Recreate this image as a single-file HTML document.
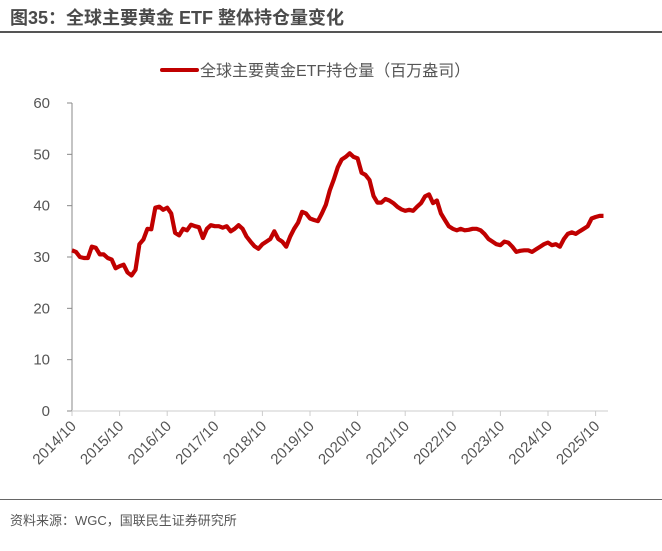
<!DOCTYPE html>
<html><head><meta charset="utf-8">
<style>
body{margin:0;background:#fff;font-family:"Liberation Sans","Noto Sans CJK SC",sans-serif;}
#wrap{position:relative;width:662px;height:551px;overflow:hidden;}
#title{position:absolute;left:10px;top:4px;font-size:18px;font-weight:bold;color:#4a4a4a;}
#topline{position:absolute;left:0;top:31px;width:662px;height:2px;background:#555;}
#botline{position:absolute;left:0;top:499px;width:662px;height:1px;background:#666;}
#source{position:absolute;left:10px;top:510px;font-size:13px;color:#555;}
svg{position:absolute;left:0;top:0;}
</style></head><body>
<div id="wrap">
<div id="title">图35：全球主要黄金 ETF 整体持仓量变化</div>
<div id="topline"></div>
<svg id="chart" width="662" height="551"></svg>
<div id="botline"></div>
<div id="source">资料来源：WGC，国联民生证券研究所</div>
</div>
<script>
const yTicks=[0,10,20,30,40,50,60];
const xLabels=["2014/10","2015/10","2016/10","2017/10","2018/10","2019/10","2020/10","2021/10","2022/10","2023/10","2024/10","2025/10"];
const holdings=[31.3,31,30,29.8,29.8,32,31.8,30.5,30.5,29.8,29.5,27.8,28.2,28.5,27,26.4,27.5,32.5,33.4,35.5,35.4,39.6,39.8,39.2,39.6,38.5,34.7,34.2,35.5,35.2,36.3,36,35.8,33.7,35.5,36.2,36,36,35.7,36,35,35.5,36.2,35.5,34,33,32.1,31.6,32.5,33,33.5,35,33.5,33,32,34,35.5,36.7,38.8,38.5,37.5,37.2,37,38.5,40.2,43,45.1,47.5,49,49.5,50.2,49.5,49.2,46.4,46,45,41.9,40.6,40.6,41.3,41,40.5,39.8,39.3,39,39.2,39,39.8,40.5,41.8,42.2,40.5,41,38.5,37.2,36,35.5,35.2,35.5,35.2,35.3,35.5,35.5,35.2,34.5,33.5,33,32.5,32.3,33,32.8,32,31,31.2,31.3,31.3,31,31.5,32,32.5,32.8,32.3,32.5,32,33.5,34.5,34.8,34.5,35,35.5,36,37.5,37.8,38,38];
const svg=document.getElementById('chart');
const NS='http://www.w3.org/2000/svg';
const x0=72,yearW=47.6,y0=411,yTop=103,xEnd=608;
const xs=i=>x0+i*yearW/12;
const ys=v=>y0-(v-yTicks[0])/(yTicks[yTicks.length-1]-yTicks[0])*(y0-yTop);
function mk(t,a,p){const e=document.createElementNS(NS,t);for(const k in a)e.setAttribute(k,a[k]);(p||svg).appendChild(e);return e;}
let ya=mk('line',{x1:x0,y1:yTop,x2:x0,y2:y0,stroke:'#888','stroke-width':1});


yTicks.forEach(v=>{
 mk('line',{x1:x0-5,y1:ys(v),x2:x0,y2:ys(v),stroke:'#888'});
 const t=mk('text',{x:50,y:ys(v)+5,'text-anchor':'end','font-size':15,fill:'#555'});
 t.textContent=v;
 
 
});
let xa=mk('line',{x1:x0,y1:y0,x2:xEnd,y2:y0,stroke:'#ddd','stroke-width':1.5});


xLabels.forEach((l,i)=>{
 const x=xs(i*12);
 mk('line',{x1:x,y1:y0,x2:x,y2:y0+5,stroke:'#ccc'});
 const t=mk('text',{x:x+5,y:y0+16,'text-anchor':'end','font-size':15,fill:'#555',transform:`rotate(-45 ${x+5} ${y0+16})`});
 t.textContent=l;
 
 
});
const d=holdings.map((v,i)=>(i?'L':'M')+xs(i).toFixed(1)+' '+ys(v).toFixed(1)).join(' ');
const p=mk('path',{d:d,fill:'none',stroke:'#c00000','stroke-width':4.2,'stroke-linejoin':'round'});


const g=mk('g',{});


mk('line',{x1:162,y1:70,x2:197,y2:70,stroke:'#c00000','stroke-width':4,'stroke-linecap':'round'},g);
const lt=mk('text',{x:200,y:76,'font-size':16,fill:'#555'},g);
lt.textContent='全球主要黄金ETF持仓量（百万盎司）';
</script>
</body></html>
